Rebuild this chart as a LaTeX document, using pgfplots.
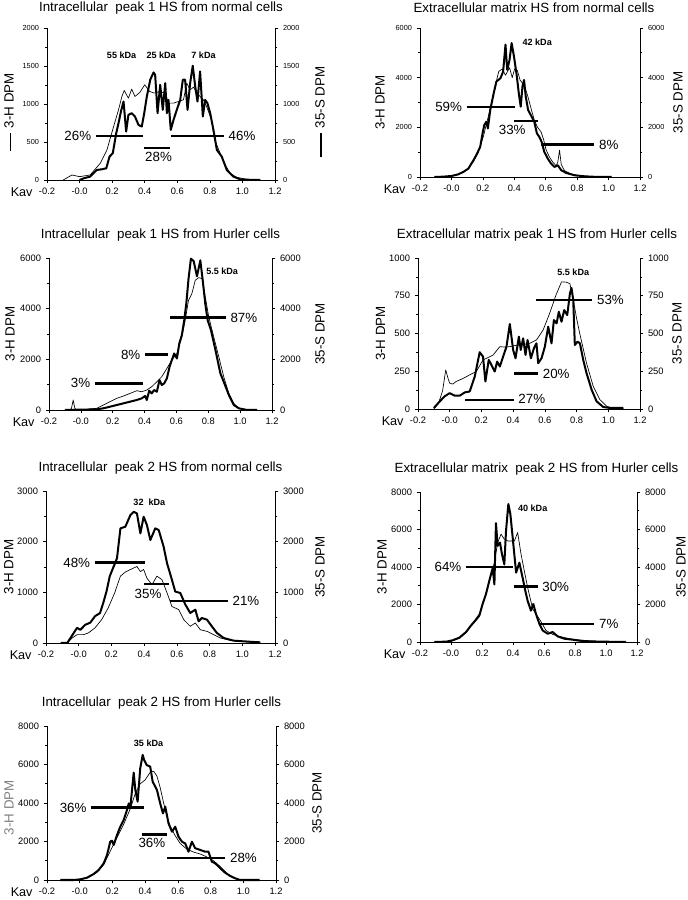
\documentclass[border=0pt]{standalone}
\usepackage{pgfplots}
\pgfplotsset{compat=1.18}
\usepackage{fontspec}
\setmainfont{Liberation Sans}
\begin{document}
\begin{tikzpicture}
\useasboundingbox (0,0) rectangle (515.25pt,675pt);
\tikzset{
  pct/.style={font=\fontsize{10}{12}\selectfont},
  kda/.style={font=\fontsize{6.8}{8}\selectfont\bfseries, anchor=center},
}
\pgfplotsset{
  P/.style={scale only axis, anchor=south west, clip=false,
    xmin=-0.2, xmax=1.2, ymin=0,
    axis line style={line width=0.6pt},
    tick style={black, line width=0.5pt},
    major tick length=2.5pt, minor tick length=1.5pt,
    tick align=outside, minor y tick num=1,
    /pgf/number format/assume math mode=true,
    /pgf/number format/set thousands separator={},
    yticklabel style={font=\fontsize{7}{8}\selectfont},
    ylabel style={font=\fontsize{10}{12}\selectfont, anchor=center}},
  L/.style={P, axis y line*=left, axis x line*=bottom,
    xtick={-0.2,0,0.2,0.4,0.6,0.8,1.0,1.2},
    xticklabels={-0.2,-0.0,0.2,0.4,0.6,0.8,1.0,1.2},
    xticklabel style={font=\fontsize{7}{8}\selectfont},
    xlabel={Kav},
    xlabel style={font=\fontsize{9.5}{11}\selectfont, at={(axis description cs:0,0)}, anchor=center, xshift=-19pt, yshift=-9pt},
    title style={font=\fontsize{10}{12}\selectfont, at={(axis description cs:0.5,1)}, anchor=center, yshift=11pt}},
  R/.style={P, axis y line*=right, hide x axis},
  hline/.style={black, line width=0.5pt, line join=round, no marks},
  sline/.style={black, line width=1.5pt, line join=round, no marks},
  pbar/.style={black, line width=1.7pt, no marks},
  g1/.style={at={(35.25pt,540pt)}, width=171pt, height=114pt, ymax=2000, ytick={0,500,1000,1500,2000}, yticklabel style={font=\fontsize{5.5}{6}\selectfont}},
  g2/.style={at={(315pt,542.25pt)}, width=165pt, height=111.75pt, ymax=6000, ytick={0,2000,4000,6000}, yticklabel style={font=\fontsize{5.5}{6}\selectfont}},
  g3/.style={at={(36.75pt,367.5pt)}, width=167.25pt, height=114pt, ymax=6000, ytick={0,2000,4000,6000}},
  g4/.style={at={(313.5pt,368.25pt)}, width=166.5pt, height=113.25pt, ymax=1000, ytick={0,250,500,750,1000}},
  g5/.style={at={(34.5pt,192.75pt)}, width=171.75pt, height=114pt, ymax=3000, ytick={0,1000,2000,3000}},
  g6/.style={at={(315pt,193.5pt)}, width=162.75pt, height=112.5pt, ymax=8000, ytick={0,2000,4000,6000,8000}},
  g7/.style={at={(35.25pt,15pt)}, width=171.75pt, height=115.5pt, ymax=8000, ytick={0,2000,4000,6000,8000}},
}
% ---------------- Panel 1 ----------------
\begin{axis}[L, g1, title={Intracellular\ \ peak 1 HS from normal cells}, title style={yshift=-2pt},
  ylabel={\rule[0.45ex]{13pt}{0.5pt}\hspace{4pt}3-H DPM}, ylabel style={at={(axis description cs:-0.167,0.447)}}]
\addplot[hline] coordinates {(-0.10,0) (-0.047,66) (0.0,44) (0.065,66) (0.127,220) (0.168,396) (0.209,703) (0.239,923) (0.26,1099) (0.274,1178) (0.30,1077) (0.32,1196) (0.34,1099) (0.37,1152) (0.40,1253) (0.43,1165) (0.46,1143) (0.49,1165) (0.526,1143) (0.546,1011) (0.577,1011) (0.607,1033) (0.638,1055) (0.658,1275) (0.679,1187) (0.70,1222) (0.72,1143) (0.74,1099) (0.76,1055) (0.78,967) (0.81,791) (0.83,527) (0.863,352) (0.894,198) (0.925,88) (0.965,35) (1.027,9) (1.09,0)};
\addplot[sline] coordinates {(0.0,0) (0.025,22) (0.065,44) (0.106,132) (0.137,141) (0.164,154) (0.184,308) (0.204,352) (0.225,615) (0.239,747) (0.254,901) (0.27,1033) (0.286,637) (0.30,857) (0.32,879) (0.34,835) (0.362,725) (0.382,703) (0.397,879) (0.413,1099) (0.434,1319) (0.454,1415) (0.464,1385) (0.479,879) (0.495,1253) (0.511,923) (0.526,1275) (0.536,879) (0.546,1055) (0.56,659) (0.577,791) (0.597,923) (0.618,1055) (0.634,1319) (0.648,1319) (0.663,923) (0.679,1275) (0.695,1503) (0.71,1231) (0.724,1033) (0.74,1429) (0.757,835) (0.771,1055) (0.785,1011) (0.802,879) (0.822,659) (0.843,396) (0.873,308) (0.904,132) (0.945,44) (0.986,9) (1.07,0) (1.11,0)};
\addplot[pbar] coordinates {(0.10,580) (0.39,580)};
\addplot[pbar] coordinates {(0.397,418) (0.556,418)};
\addplot[pbar] coordinates {(0.56,580) (0.887,580)};
\node[pct, anchor=east] at (axis cs:0.10,580) {26\%};
\node[pct] at (axis cs:0.485,299) {28\%};
\node[pct, anchor=west] at (axis cs:0.887,580) {46\%};
\node[kda] at (axis cs:0.258,1635) {55 kDa};
\node[kda] at (axis cs:0.501,1635) {25 kDa};
\node[kda] at (axis cs:0.761,1635) {7 kDa};
\end{axis}
\begin{axis}[R, g1, ylabel={\rule[0.3ex]{18pt}{1.6pt}\hspace{4pt}35-S DPM}, ylabel style={at={(axis description cs:1.197,0.447)}}]
\end{axis}
% ---------------- Panel 2 ----------------
\begin{axis}[L, g2, title={Extracellular matrix HS from normal cells}, title style={yshift=-2pt, xshift=3pt},
  ylabel={3-H DPM}, ylabel style={at={(axis description cs:-0.182,0.5)}}]
\addplot[hline] coordinates {(-0.108,0) (0.0,30) (0.043,100) (0.097,300) (0.14,620) (0.172,1000) (0.204,1650) (0.237,2500) (0.258,3100) (0.28,3700) (0.301,4250) (0.323,4350) (0.344,4100) (0.37,4400) (0.387,4000) (0.402,4350) (0.419,4300) (0.437,3900) (0.462,3700) (0.484,3300) (0.505,2800) (0.527,2300) (0.548,2000) (0.57,1820) (0.587,1500) (0.602,1100) (0.624,800) (0.645,600) (0.667,450) (0.677,600) (0.688,1078) (0.699,500) (0.72,250) (0.763,120) (0.806,60) (0.871,20) (0.935,0) (1.02,0)};
\addplot[sline] coordinates {(-0.108,0) (-0.054,13) (0.0,40) (0.043,108) (0.075,202) (0.108,337) (0.14,674) (0.161,917) (0.183,1213) (0.198,1753) (0.209,2090) (0.222,2225) (0.232,1955) (0.247,2697) (0.269,3371) (0.286,3843) (0.312,3977) (0.329,4247) (0.344,5326) (0.355,4314) (0.37,4719) (0.383,5393) (0.398,4854) (0.415,4112) (0.43,3303) (0.441,2831) (0.452,3640) (0.462,3910) (0.473,3236) (0.488,2697) (0.505,2494) (0.527,2225) (0.544,1753) (0.559,1618) (0.574,1416) (0.591,1011) (0.613,742) (0.634,539) (0.656,404) (0.677,472) (0.699,270) (0.731,162) (0.785,67) (0.849,27) (0.935,0) (1.02,0)};
\addplot[pbar] coordinates {(0.097,2831) (0.402,2831)};
\addplot[pbar] coordinates {(0.40,2265) (0.553,2265)};
\addplot[pbar] coordinates {(0.57,1308) (0.91,1308)};
\node[pct, anchor=east] at (axis cs:0.097,2831) {59\%};
\node[pct] at (axis cs:0.387,1915) {33\%};
\node[pct, anchor=west] at (axis cs:0.91,1308) {8\%};
\node[kda] at (axis cs:0.546,5420) {42 kDa};
\end{axis}
\begin{axis}[R, g2, ylabel={35-S DPM}, ylabel style={at={(axis description cs:1.173,0.5)}}]
\end{axis}
% ---------------- Panel 3 ----------------
\begin{axis}[L, g3, title={Intracellular\ \ peak 1 HS from Hurler cells},
  ylabel={3-H DPM}, ylabel style={at={(axis description cs:-0.175,0.5)}}]
\addplot[hline] coordinates {(-0.10,0) (-0.069,0) (-0.059,66) (-0.048,394) (-0.038,66) (-0.023,0) (0.036,26) (0.099,66) (0.141,197) (0.183,328) (0.225,460) (0.267,551) (0.309,656) (0.351,761) (0.382,722) (0.414,788) (0.445,919) (0.477,1116) (0.508,1313) (0.54,1641) (0.571,1969) (0.603,2232) (0.634,2888) (0.655,3545) (0.676,4332) (0.697,4595) (0.718,5120) (0.74,5225) (0.761,5186) (0.781,4464) (0.803,3676) (0.834,2888) (0.866,2101) (0.897,1313) (0.929,656) (0.96,263) (0.992,66) (1.044,0) (1.107,0)};
\addplot[sline] coordinates {(-0.10,0) (0.099,26) (0.141,66) (0.183,131) (0.225,197) (0.267,263) (0.309,328) (0.351,394) (0.382,460) (0.403,551) (0.414,394) (0.429,761) (0.445,656) (0.46,788) (0.477,722) (0.494,1182) (0.508,985) (0.523,1050) (0.54,1247) (0.557,1707) (0.571,1969) (0.586,2232) (0.603,2035) (0.618,2626) (0.634,2954) (0.649,3545) (0.662,4201) (0.676,5186) (0.691,5973) (0.708,5882) (0.729,5278) (0.75,5908) (0.765,5120) (0.781,4201) (0.796,3545) (0.817,3151) (0.845,2363) (0.876,1444) (0.901,1050) (0.929,591) (0.96,197) (0.992,66) (1.044,0) (1.107,0)};
\addplot[pbar] coordinates {(0.561,3650) (0.91,3650)};
\addplot[pbar] coordinates {(0.403,2192) (0.55,2192)};
\addplot[pbar] coordinates {(0.088,1050) (0.393,1050)};
\node[pct, anchor=west] at (axis cs:0.91,3650) {87\%};
\node[pct, anchor=east] at (axis cs:0.403,2192) {8\%};
\node[pct, anchor=east] at (axis cs:0.088,1050) {3\%};
\node[kda] at (axis cs:0.887,5488) {5.5 kDa};
\end{axis}
\begin{axis}[R, g3, ylabel={35-S DPM}, ylabel style={at={(axis description cs:1.215,0.5)}}]
\end{axis}
% ---------------- Panel 4 ----------------
\begin{axis}[L, g4, title={Extracellular matrix peak 1 HS from Hurler cells}, title style={xshift=6pt},
  ylabel={3-H DPM}, ylabel style={at={(axis description cs:-0.169,0.5)}}]
\addplot[hline] coordinates {(-0.10,0) (-0.07,40) (-0.045,120) (-0.025,259) (-0.01,200) (0.0,171) (0.02,165) (0.04,182) (0.08,200) (0.126,226) (0.168,248) (0.21,325) (0.24,340) (0.274,358) (0.316,413) (0.35,410) (0.379,413) (0.41,420) (0.442,424) (0.475,430) (0.505,435) (0.547,457) (0.589,523) (0.63,633) (0.67,754) (0.705,842) (0.735,840) (0.758,830) (0.78,720) (0.80,600) (0.82,500) (0.863,303) (0.905,150) (0.947,62) (0.99,18) (1.03,5) (1.10,0)};
\addplot[sline] coordinates {(-0.10,7) (-0.063,50) (-0.032,84) (0.0,105) (0.032,88) (0.063,88) (0.095,110) (0.126,116) (0.158,215) (0.189,376) (0.21,347) (0.225,182) (0.246,325) (0.263,292) (0.284,248) (0.299,314) (0.316,281) (0.337,347) (0.358,413) (0.379,563) (0.40,391) (0.415,336) (0.436,479) (0.448,391) (0.463,468) (0.478,358) (0.491,457) (0.512,336) (0.531,402) (0.547,435) (0.558,303) (0.579,336) (0.60,413) (0.621,545) (0.642,435) (0.657,589) (0.674,567) (0.688,644) (0.705,578) (0.722,655) (0.741,622) (0.758,765) (0.768,802) (0.779,721) (0.789,424) (0.806,446) (0.821,435) (0.842,325) (0.863,237) (0.895,127) (0.926,51) (0.968,13) (1.01,7) (1.095,7)};
\addplot[pbar] coordinates {(0.547,721) (0.90,721)};
\addplot[pbar] coordinates {(0.406,235) (0.558,235)};
\addplot[pbar] coordinates {(0.095,59) (0.404,59)};
\node[pct, anchor=west] at (axis cs:0.90,721) {53\%};
\node[pct, anchor=west] at (axis cs:0.558,235) {20\%};
\node[pct, anchor=west] at (axis cs:0.404,70) {27\%};
\node[kda] at (axis cs:0.779,908) {5.5 kDa};
\end{axis}
\begin{axis}[R, g4, ylabel={35-S DPM}, ylabel style={at={(axis description cs:1.167,0.5)}}]
\end{axis}
% ---------------- Panel 5 ----------------
\begin{axis}[L, g5, title={Intracellular\ \ peak 2 HS from normal cells},
  ylabel={3-H DPM}, ylabel style={at={(axis description cs:-0.162,0.5)}}]
\addplot[hline] coordinates {(-0.07,0) (-0.04,100) (-0.01,165) (0.03,165) (0.06,200) (0.10,300) (0.14,460) (0.18,690) (0.22,990) (0.255,1320) (0.285,1400) (0.316,1450) (0.356,1510) (0.377,1410) (0.397,1450) (0.417,1280) (0.448,1150) (0.478,1320) (0.509,1250) (0.54,990) (0.57,720) (0.611,660) (0.642,460) (0.682,330) (0.713,395) (0.743,263) (0.784,230) (0.825,165) (0.866,99) (0.927,53) (0.988,33) (1.07,13)};
\addplot[sline] coordinates {(-0.11,0) (-0.07,0) (-0.04,150) (-0.01,300) (0.01,260) (0.04,360) (0.07,400) (0.10,530) (0.13,590) (0.15,790) (0.17,1020) (0.19,1320) (0.234,1672) (0.255,2262) (0.285,2295) (0.316,2525) (0.336,2590) (0.356,2557) (0.377,2164) (0.397,2492) (0.417,2328) (0.438,2033) (0.468,2262) (0.489,2230) (0.519,1902) (0.54,1574) (0.57,1246) (0.59,1016) (0.621,987) (0.652,757) (0.682,592) (0.713,658) (0.733,428) (0.753,493) (0.784,461) (0.814,329) (0.845,197) (0.886,99) (0.947,46) (1.008,33) (1.07,20) (1.11,13)};
\addplot[pbar] coordinates {(0.098,1587) (0.403,1587)};
\addplot[pbar] coordinates {(0.397,1160) (0.554,1160)};
\addplot[pbar] coordinates {(0.556,833) (0.912,833)};
\node[pct, anchor=east] at (axis cs:0.098,1587) {48\%};
\node[pct] at (axis cs:0.424,970) {35\%};
\node[pct, anchor=west] at (axis cs:0.912,833) {21\%};
\node[kda] at (axis cs:0.432,2787) {32\ \ kDa};
\end{axis}
\begin{axis}[R, g5, ylabel={35-S DPM}, ylabel style={at={(axis description cs:1.197,0.5)}}]
\end{axis}
% ---------------- Panel 6 ----------------
\begin{axis}[L, g6, title={Extracellular matrix\ \ peak 2 HS from Hurler cells}, title style={xshift=6pt},
  ylabel={3-H DPM}, ylabel style={at={(axis description cs:-0.175,0.5)}}]
\addplot[hline] coordinates {(-0.107,0) (0.0,30) (0.054,200) (0.097,500) (0.14,1000) (0.183,1500) (0.204,2000) (0.247,3200) (0.269,3900) (0.28,4230) (0.301,5300) (0.323,5750) (0.344,5480) (0.366,5390) (0.387,5390) (0.409,5390) (0.43,5840) (0.452,4680) (0.473,3790) (0.495,2890) (0.527,1760) (0.57,1230) (0.613,617) (0.656,405) (0.699,300) (0.763,176) (0.849,88) (0.935,35) (1.0,10) (1.1,0)};
\addplot[sline] coordinates {(-0.107,0) (-0.03,20) (0.01,90) (0.054,230) (0.097,530) (0.129,880) (0.161,1180) (0.183,1410) (0.204,2030) (0.226,2560) (0.247,3260) (0.269,3950) (0.28,3070) (0.29,6340) (0.301,5125) (0.316,5300) (0.329,4680) (0.344,4140) (0.355,5930) (0.37,7360) (0.383,6820) (0.398,5570) (0.42,3700) (0.441,4230) (0.462,3430) (0.48,2710) (0.495,2180) (0.516,1674) (0.531,2030) (0.548,1500) (0.57,970) (0.591,617) (0.624,440) (0.656,530) (0.688,300) (0.731,176) (0.785,123) (0.828,70) (0.892,35) (0.978,18) (1.129,0)};
\addplot[pbar] coordinates {(0.097,4000) (0.402,4000)};
\addplot[pbar] coordinates {(0.404,2964) (0.559,2964)};
\addplot[pbar] coordinates {(0.57,969) (0.925,969)};
\node[pct, anchor=east] at (axis cs:0.097,4000) {64\%};
\node[pct, anchor=west] at (axis cs:0.559,2964) {30\%};
\node[pct, anchor=west] at (axis cs:0.925,969) {7\%};
\node[kda] at (axis cs:0.527,7143) {40 kDa};
\end{axis}
\begin{axis}[R, g6, ylabel={35-S DPM}, ylabel style={at={(axis description cs:1.203,0.5)}}]
\end{axis}
% ---------------- Panel 7 ----------------
\begin{axis}[L, g7, title={Intracellular\ \ peak 2 HS from Hurler cells},
  ylabel={3-H DPM}, ylabel style={at={(axis description cs:-0.166,0.47)}, text=gray}]
\addplot[hline] coordinates {(-0.118,0) (-0.016,20) (0.045,100) (0.106,400) (0.147,800) (0.187,1500) (0.228,2200) (0.269,2900) (0.309,3700) (0.34,4500) (0.37,5000) (0.40,5200) (0.431,5600) (0.452,5650) (0.472,5400) (0.492,4800) (0.513,4000) (0.533,3300) (0.553,2800) (0.584,2300) (0.614,1900) (0.655,1600) (0.696,1450) (0.737,1350) (0.777,1200) (0.818,1000) (0.859,700) (0.899,350) (0.94,100) (0.98,20) (1.06,0)};
\addplot[sline] coordinates {(-0.118,0) (-0.037,0) (0.004,35) (0.045,120) (0.085,310) (0.116,520) (0.147,870) (0.167,1300) (0.187,2000) (0.197,2040) (0.208,1820) (0.228,2340) (0.248,2770) (0.269,3120) (0.289,3640) (0.30,3980) (0.31,3810) (0.33,5580) (0.34,4680) (0.354,4070) (0.37,5800) (0.385,6500) (0.394,6230) (0.41,5970) (0.431,5890) (0.446,5110) (0.472,4680) (0.492,3980) (0.509,3460) (0.523,3810) (0.543,2940) (0.564,2510) (0.584,2770) (0.604,2250) (0.625,1990) (0.645,1900) (0.665,1470) (0.686,1990) (0.706,1650) (0.737,1560) (0.767,1470) (0.787,1470) (0.808,950) (0.828,870) (0.859,610) (0.889,380) (0.92,210) (0.95,90) (0.98,0) (1.1,0)};
\addplot[pbar] coordinates {(0.07,3760) (0.39,3760)};
\addplot[pbar] coordinates {(0.38,2370) (0.533,2370)};
\addplot[pbar] coordinates {(0.533,1140) (0.891,1140)};
\node[pct, anchor=east] at (axis cs:0.07,3760) {36\%};
\node[pct] at (axis cs:0.441,1905) {36\%};
\node[pct, anchor=west] at (axis cs:0.891,1140) {28\%};
\node[kda] at (axis cs:0.421,7100) {35 kDa};
\end{axis}
\begin{axis}[R, g7, ylabel={35-S DPM}, ylabel style={at={(axis description cs:1.179,0.5)}}]
\end{axis}
\end{tikzpicture}
\end{document}
